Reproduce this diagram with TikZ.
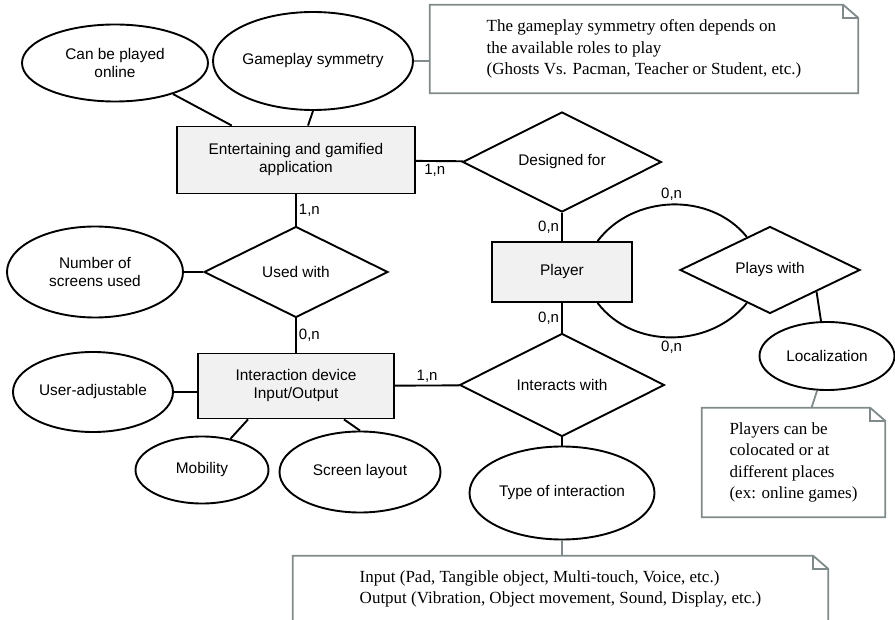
\documentclass[tikz,border=0pt]{standalone}
\usepackage{fontspec}
\setmainfont{Liberation Serif}
\setsansfont{Liberation Sans}
\usetikzlibrary{shapes.geometric, positioning}
\definecolor{notegray}{RGB}{128,138,138}
\newcommand{\notefold}[1]{%
  \draw[noteline] (#1.south west) -- (#1.north west) -- ([xshift=-15pt]#1.north east) -- ([yshift=-13pt]#1.north east) -- (#1.south east) -- cycle;
  \draw[noteline] ([xshift=-15pt]#1.north east) |- ([yshift=-13pt]#1.north east);
}

\begin{document}
\begin{tikzpicture}[
        x=1pt, y=1pt,
        every node/.style={font=\sffamily\fontsize{15.4}{18}\selectfont},
        entity/.style={draw, line width=1.9pt, fill=gray!11, inner sep=0pt, align=center},
        attrib/.style={ellipse, draw, line width=1.9pt, inner sep=0pt, align=center},
        relation/.style={diamond, draw, line width=1.9pt, inner sep=0pt, aspect=2},
        notebox/.style={inner sep=0pt, align=left, font=\rmfamily\fontsize{17}{21.5}\selectfont},
        noteline/.style={draw=notegray, line width=1.8pt},
        link/.style={line width=1.9pt},
        card/.style={font=\sffamily\fontsize{15}{18}\selectfont, inner sep=2pt}
        ]
        \clip (0,0) rectangle (895,-620);

        % application and its attributes
        \node[attrib, minimum width=186pt, minimum height=77pt] (online) at (115,-63) {Can be played\\online};
        \node[attrib, minimum width=200pt, minimum height=98pt] (gsym) at (313,-61) {Gameplay symmetry};
        \node[entity, minimum width=238pt, minimum height=67pt] (app) at (296,-160) {Entertaining and gamified\\application};
        \node[notebox, minimum width=428pt, minimum height=88pt] (gsymnote) at (644,-49) {The gameplay symmetry often depends on\\the available roles to play\\(Ghosts Vs. Pacman, Teacher or Student, etc.)};

        \draw[link] (online) -- (app);
        \draw[link] (gsym.south) -- ([xshift=12pt]app.north);
        \draw[noteline] (gsym.east) -- (gsym.east -| gsymnote.west);
        \notefold{gsymnote}

        % player
        \node[relation, minimum width=199pt, minimum height=100pt] (designed) at (562,-162) {Designed for};
        \node[entity, minimum width=140pt, minimum height=60pt] (player) at (562,-272) {Player};
        \node[relation, minimum width=180pt, minimum height=87pt] (plays) at (770,-270) {Plays with};
        \node[attrib, minimum width=135pt, minimum height=68pt] (loc) at (827,-356) {Localization};
        \node[notebox, minimum width=183pt, minimum height=109pt] (locnote) at (793.5,-462.5) {Players can be\\colocated or at\\different places\\(ex: online games)};

        \draw[link] (app) -- node[card, below, pos=.4] {1,n} (designed);
        \draw[link] (designed) -- node[card, left] {0,n} (player);
        \draw[link] (player.41) to[out=53, in=129] node[card, above=1pt] {0,n} (plays.125);
        \draw[link] (player.-41) to[out=-53, in=-129] node[card, below=1pt] {0,n} (plays.-125);
        \draw[link] (plays.-25) -- ([xshift=-6pt]loc.north);
        \draw[noteline] ([xshift=-10pt]loc.south) -- ([xshift=18pt]locnote.north);
        \notefold{locnote}

        % interaction device
        \node[relation, minimum width=184pt, minimum height=91pt] (used) at (296,-272) {Used with};
        \node[attrib, minimum width=176pt, minimum height=91pt] (screens) at (95,-272) {Number of\\screens used};
        \node[entity, minimum width=196pt, minimum height=65pt] (device) at (296,-386) {Interaction device\\Input/Output};
        \node[attrib, minimum width=160pt, minimum height=80pt] (useradj) at (93,-392) {User-adjustable};
        \node[attrib, minimum width=133pt, minimum height=67pt] (mobility) at (202,-470) {Mobility};
        \node[attrib, minimum width=161pt, minimum height=81pt] (layout) at (360,-472) {Screen layout};

        \draw[link] (app) -- node[card, right] {1,n} (used);
        \draw[link] (used) -- node[card, right] {0,n} (device);
        \draw[link] (screens) -- (used);
        \draw[link] (useradj.east) -- (useradj.east -| device.west);
        \draw[link] (mobility) -- ([xshift=-48pt]device.south);
        \draw[link] (layout.north) -- ([xshift=48pt]device.south);

        % interaction
        \node[relation, minimum width=205pt, minimum height=103pt] (interacts) at (562,-385) {Interacts with};
        \node[attrib, minimum width=185pt, minimum height=93pt] (typeint) at (562,-493) {Type of interaction};
        \node[notebox, minimum width=535pt, minimum height=66pt] (typenote) at (560.5,-589) {Input (Pad, Tangible object, Multi-touch, Voice, etc.)\\Output (Vibration, Object movement, Sound, Display, etc.)};

        \draw[link] (device) -- node[card, above] {1,n} (interacts);
        \draw[link] (player) -- node[card, left] {0,n} (interacts);
        \draw[link] (interacts) -- (typeint);
        \draw[noteline] (typeint.south) -- (typeint.south |- typenote.north);
        \notefold{typenote}
\end{tikzpicture}
\end{document}
